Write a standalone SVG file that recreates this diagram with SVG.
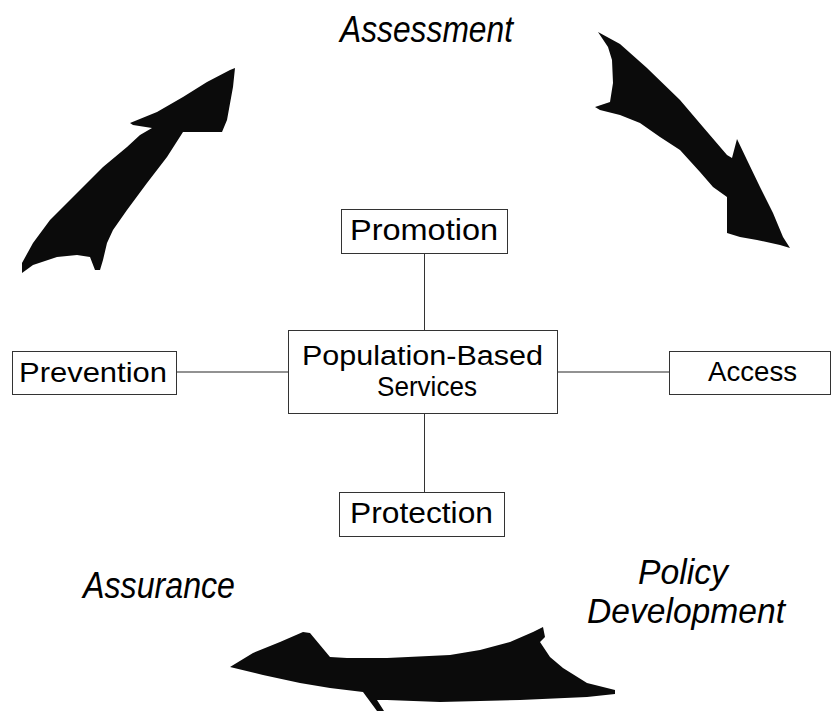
<svg xmlns="http://www.w3.org/2000/svg" width="831" height="711" viewBox="0 0 831 711">
<style>
.box{fill:#fff;stroke:#333;stroke-width:1}
.t{font-family:"Liberation Sans","Noto Sans",sans-serif;font-size:29px;fill:#000}
.s{font-size:28px}
.m{font-size:27px}
.lab{font-family:"Liberation Sans","Noto Sans",sans-serif;font-size:37px;font-style:italic;fill:#000}
.lab2{font-size:35px}
.arr{fill:#0b0b0b;stroke:none}
.cv{stroke:#333;stroke-width:1;fill:none}
.ch{stroke:#6e6e6e;stroke-width:1.6;fill:none}
</style>
<rect width="831" height="711" fill="#fff"/>
<g id="cycle-arrows">
<path id="arrow-assessment-policy" class="arr" d="M598,32 L620,44 L647,68 L680,100 L703,127 L727,155 L732,158 L737,139 L747,160 L760,187 L773,213 L783,237 L790,248 L780,245 L757,240 L740,237 L727,233 L727,210 L727,197 L713,187 L700,172 L680,150 L660,137 L640,123 L620,115 L600,110 L595,107 L610,102 L613,83 L612,60 L608,47 Z"/>
<path id="arrow-policy-assurance" class="arr" d="M230,667 L253,653 L280,642 L303,632 L310,633 L330,657 L347,658 L387,658 L450,655 L480,650 L510,642 L533,632 L543,627 L545,637 L540,642 L550,657 L563,668 L587,683 L615,690 L615,694 L587,697 L520,700 L440,702 L387,700 L377,700 L384,711 L377,711 L363,692 L330,688 L300,683 L263,675 Z"/>
<path id="arrow-assurance-assessment" class="arr" d="M235,68 L233,87 L227,120 L222,132 L183,132 L167,157 L147,183 L127,210 L113,230 L107,243 L103,260 L100,270 L95,270 L90,257 L77,255 L57,257 L33,265 L22,273 L22,263 L33,243 L50,220 L77,193 L103,167 L127,147 L140,135 L152,128 L133,125 L130,123 L157,112 L183,97 L207,82 L230,70 Z"/>
</g>
<g id="labels">
<text class="lab" x="340" y="42" textLength="173" lengthAdjust="spacingAndGlyphs">Assessment</text>
<text class="lab" x="83" y="598" textLength="152" lengthAdjust="spacingAndGlyphs">Assurance</text>
<text class="lab lab2" x="638" y="584" textLength="90" lengthAdjust="spacingAndGlyphs">Policy</text>
<text class="lab lab2" x="587" y="623" textLength="198" lengthAdjust="spacingAndGlyphs">Development</text>
</g>
<g id="connectors">
<line class="cv" x1="424.5" y1="253" x2="424.5" y2="330"/>
<line class="cv" x1="424.5" y1="414" x2="424.5" y2="492"/>
<line class="ch" x1="176" y1="372" x2="288" y2="372"/>
<line class="ch" x1="558" y1="372" x2="669" y2="372"/>
</g>
<g id="promotion">
<rect class="box" x="341.5" y="209.5" width="166" height="44"/>
<text class="t" x="350" y="240" textLength="148" lengthAdjust="spacingAndGlyphs">Promotion</text>
</g>
<g id="population-based-services">
<rect class="box" x="288.5" y="330.5" width="269" height="83"/>
<text class="t m" x="302" y="365" textLength="241" lengthAdjust="spacingAndGlyphs">Population-Based</text>
<text class="t m" x="377" y="396" textLength="100" lengthAdjust="spacingAndGlyphs">Services</text>
</g>
<g id="prevention">
<rect class="box" x="12.5" y="351.5" width="164" height="43"/>
<text class="t s" x="19" y="382" textLength="148" lengthAdjust="spacingAndGlyphs">Prevention</text>
</g>
<g id="access">
<rect class="box" x="669.5" y="351.5" width="161" height="43"/>
<text class="t s" x="708" y="381" textLength="89" lengthAdjust="spacingAndGlyphs">Access</text>
</g>
<g id="protection">
<rect class="box" x="339.5" y="492.5" width="165" height="44"/>
<text class="t" x="350" y="523" textLength="143" lengthAdjust="spacingAndGlyphs">Protection</text>
</g>
</svg>
